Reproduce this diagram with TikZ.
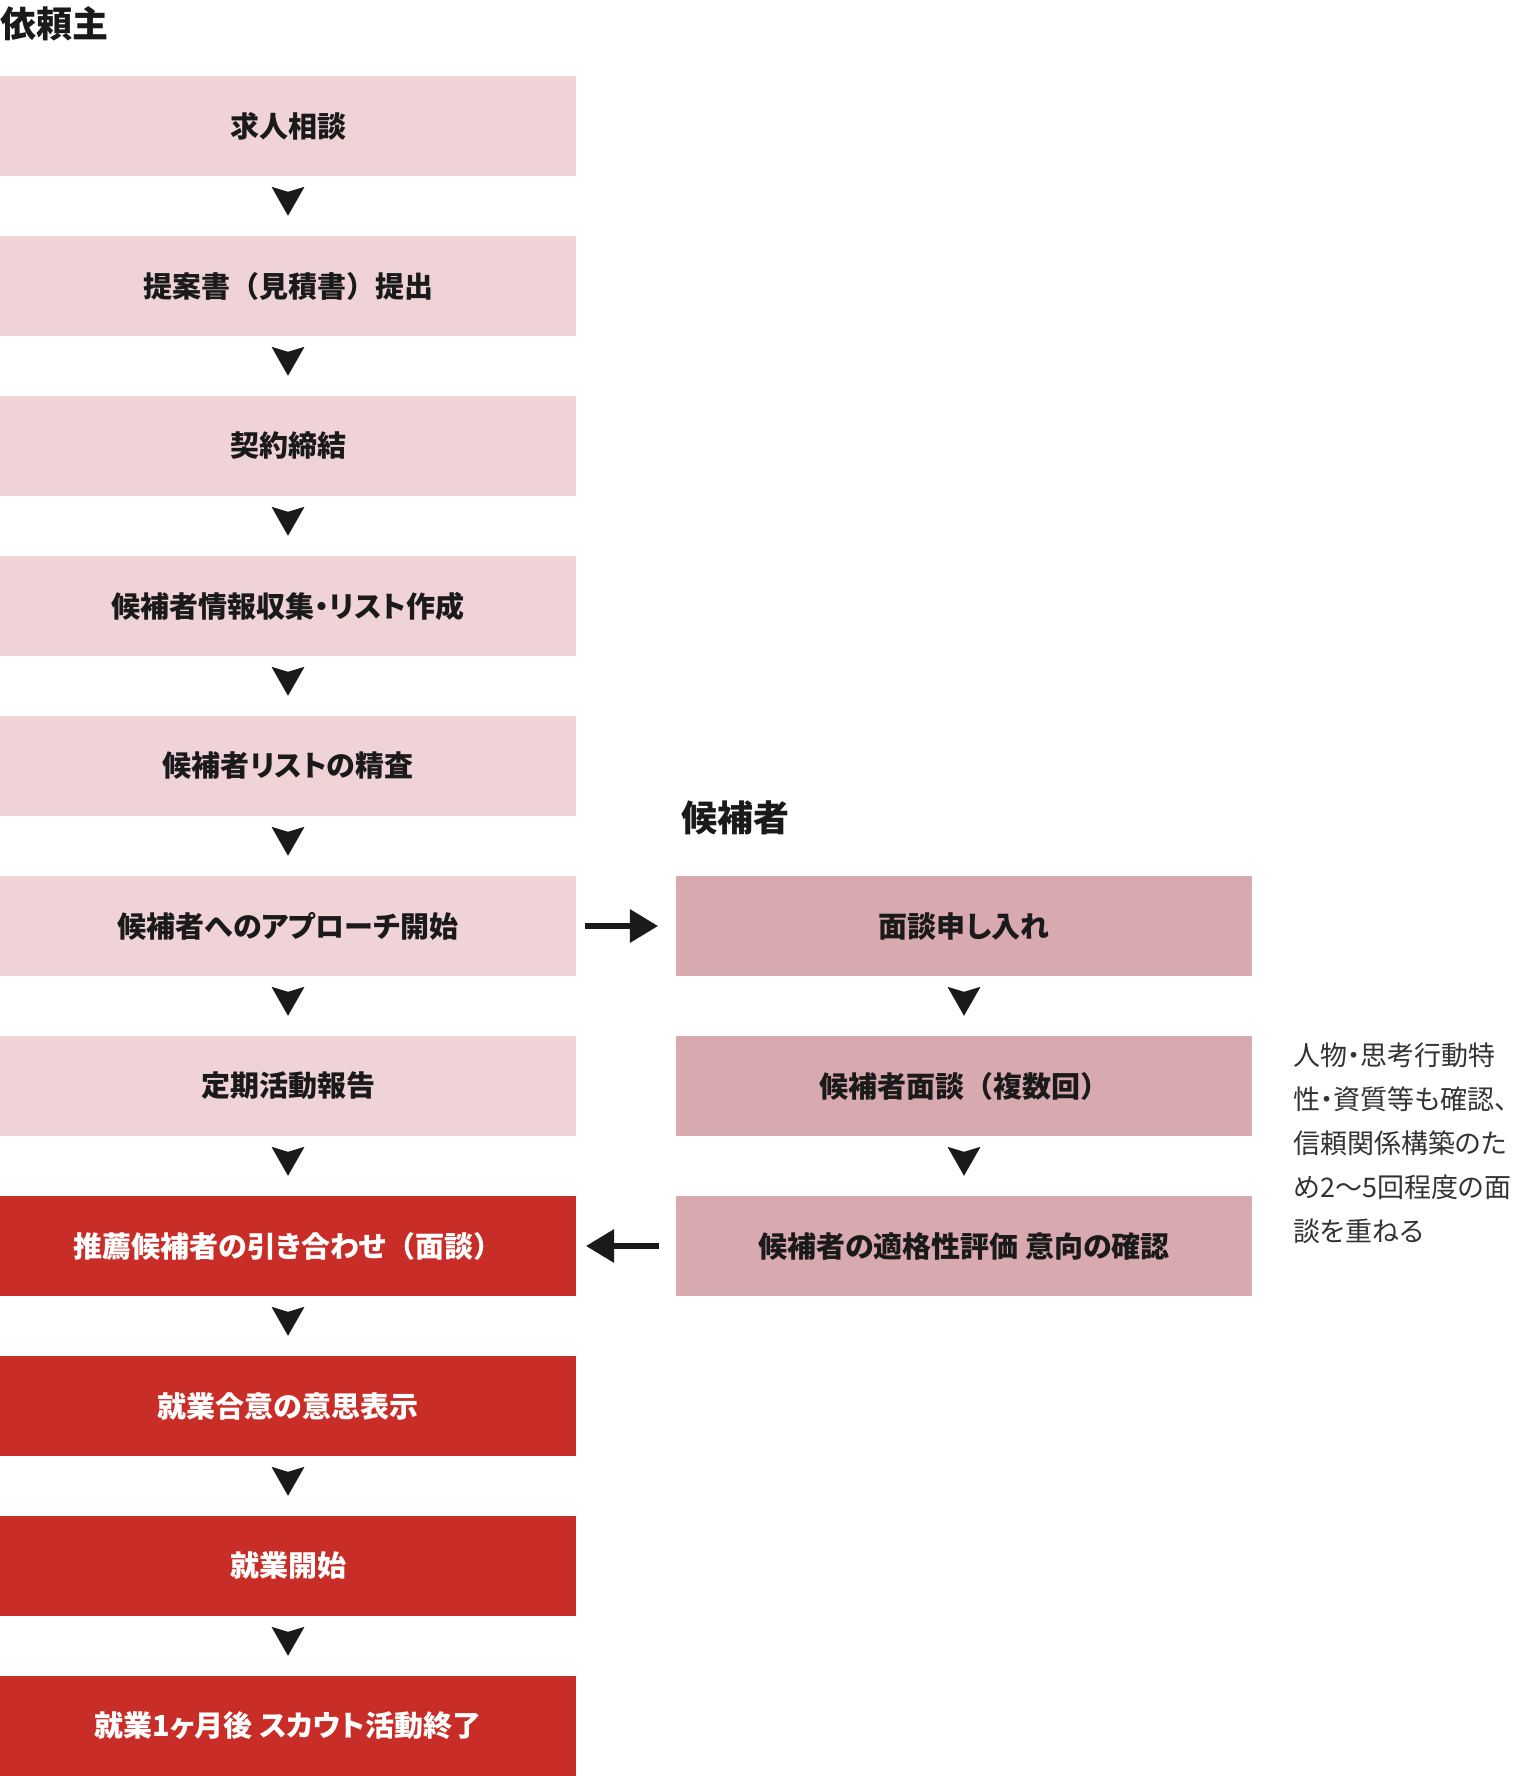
\documentclass[tikz,border=0pt]{standalone}
\usepackage{fontspec}
\setmainfont{Noto Sans CJK JP}[RawFeature=+palt]
\newfontfamily\fullwidth{Noto Sans CJK JP}
\usetikzlibrary{arrows.meta}
\definecolor{lightrose}{HTML}{EFD3D7}
\definecolor{rose}{HTML}{D9A9B0}
\definecolor{scarlet}{HTML}{C92D27}
\definecolor{ink}{HTML}{1A1A1A}
\definecolor{notegray}{HTML}{333333}
\newcommand\stepfont{\bfseries\fontsize{29}{35}\selectfont}
\newcommand\headfont{\bfseries\fontsize{36}{43}\selectfont}
\newcommand\notefont{\fontsize{27}{44}\selectfont}
\newcommand\lpar{{\fullwidth（}}
\newcommand\rpar{{\fullwidth）}}

\begin{document}
\begin{tikzpicture}[x=1pt,y=-1pt,
   stepbox/.style={rectangle,minimum width=576pt,minimum height=100pt,inner sep=0pt,font=\stepfont},
   clientbox/.style={stepbox,fill=lightrose,text=ink},
   matchbox/.style={stepbox,fill=scarlet,text=white},
   candbox/.style={stepbox,fill=rose,text=ink},
   down/.style={ink,line width=0.1pt,-{Stealth[length=29pt,width=33pt,inset=5pt,line width=0pt]},shorten <=17pt,shorten >=20pt},
   side/.style={ink,line width=6pt,-{Triangle[length=28pt,width=34pt,line width=0pt]}}]
\useasboundingbox (0,0) rectangle (1518,1776);
      \node [anchor=west,inner sep=0pt,font=\headfont,text=ink] at (0,24) (irainushi) {依頼主};
         \node [clientbox] at (288,126) (kyujin) {求人相談};
            \node [clientbox] at (288,286) (teian) {提案書\lpar 見積書\rpar 提出};
               \node [clientbox] at (288,446) (keiyaku) {契約締結};
                  \node [clientbox] at (288,606) (list) {候補者情報収集・リスト作成};
                     \node [clientbox] at (288,766) (seisa) {候補者リストの精査};
                        \node [clientbox] at (288,926) (approach) {候補者へのアプローチ開始};
                           \node [clientbox] at (288,1086) (houkoku) {定期活動報告};
                              \node [matchbox] at (288,1246) (suisen) {推薦候補者の引き合わせ\lpar 面談\rpar};
                                 \node [matchbox] at (288,1406) (goui) {就業合意の意思表示};
                                    \node [matchbox] at (288,1566) (kaishi) {就業開始};
                                       \node [matchbox] at (288,1726) (shuryo) {就業1ヶ月後 スカウト活動終了};
%
      \node [anchor=west,inner sep=0pt,font=\headfont,text=ink] at (681,818) (kouhosha) {候補者};
         \node [candbox] at (964,926) (moushiire) {面談申し入れ};
            \node [candbox] at (964,1086) (mendan) {候補者面談\lpar 複数回\rpar};
               \node [candbox] at (964,1246) (hyouka) {候補者の適格性評価 意向の確認};
%
      \node [anchor=north west,align=left,inner sep=0pt,font=\notefont,text=notegray] at (1293,1043) (memo) {人物・思考行動特\\性・資質等も確認、\\信頼関係構築のた\\め2〜5回程度の面\\談を重ねる};
%
%
\path[down] (kyujin) edge (teian);
\path[down] (teian) edge (keiyaku);
\path[down] (keiyaku) edge (list);
\path[down] (list) edge (seisa);
\path[down] (seisa) edge (approach);
\path[down] (approach) edge (houkoku);
\path[down] (houkoku) edge (suisen);
\path[down] (suisen) edge (goui);
\path[down] (goui) edge (kaishi);
\path[down] (kaishi) edge (shuryo);
\path[down] (moushiire) edge (mendan);
\path[down] (mendan) edge (hyouka);
\path[side,shorten <=9pt,shorten >=18pt] (approach) edge (moushiire);
\path[side,shorten <=17pt,shorten >=10pt] (hyouka) edge (suisen);

\end{tikzpicture}
\end{document}
